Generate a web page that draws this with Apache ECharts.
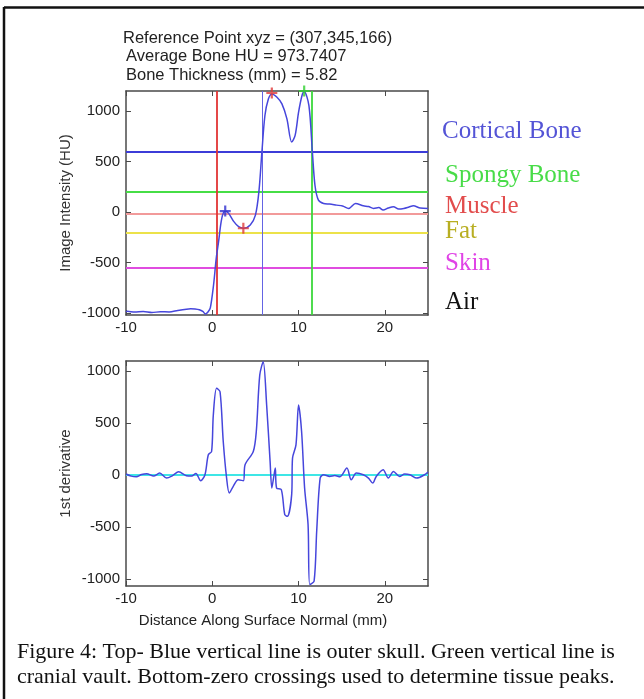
<!DOCTYPE html>
<html>
<head>
<meta charset="utf-8">
<script src="https://cdn.jsdelivr.net/npm/echarts@6.0.0/dist/echarts.min.js"></script>
<style>html,body{margin:0;padding:0;background:#fff;}</style>
</head>
<body>
<div id="main" style="width:644px;height:699px;"></div>
<script>
// tick labels
var distTicks = [-10, 0, 10, 20];
var valueTicks = [-1000, -500, 0, 500, 1000];

// top: intensity profile along the surface normal (mm, HU)
var profileX = [-10, -9.85, -9, -8, -7, -6, -5, -4, -3, -2.5, -2, -1.5, -1.1, -0.8, -0.5, -0.23, 0.15, 0.46, 0.73, 1.1, 1.5, 1.9, 2.5, 3.05, 3.6, 4.4, 5.0, 5.4, 5.75, 6.1, 6.5, 6.9, 7.5, 8.07, 8.65, 9.2, 9.6, 10.0, 10.4, 10.65, 11.2, 11.6, 11.9, 12.3, 12.9, 13.6, 14.4, 15.1, 15.8, 16.6, 17.5, 18.1, 18.7, 19.3, 19.8, 20.4, 21, 21.6, 22.2, 22.8, 23.3, 24.1, 25];
var profileY = [-990, -984, -990, -985, -995, -988, -990, -975, -962, -958, -960, -968, -985, -1010, -990, -950, -720, -457, -293, -62, 10, -13, -95, -145, -161, -128, -30, 200, 595, 957, 1120, 1171, 1138, 1072, 924, 694, 760, 990, 1155, 1195, 1056, 595, 266, 118, 85, 80, 69, 60, 36, 85, 62, 55, 36, 45, 20, 40, 53, 30, 36, 50, 62, 40, 36];

// bottom: first derivative of the profile
var derivX = [-10, -9.4, -8.8, -8.2, -7.6, -6.8, -6.1, -5.3, -4.6, -3.9, -3.0, -2.4, -1.9, -1.35, -0.85, -0.46, -0.08, 0.12, 0.5, 0.9, 1.27, 1.66, 1.97, 2.43, 3.0, 3.6, 3.8, 4.75, 5.1, 5.5, 5.9, 6.3, 6.7, 6.9, 7.1, 7.3, 7.45, 8.0, 8.4, 8.7, 9.2, 9.3, 9.7, 10.0, 10.35, 10.7, 11.1, 11.3, 11.8, 12.1, 12.5, 12.9, 13.6, 14.2, 14.8, 15.6, 16.1, 16.7, 17.5, 18.1, 18.6, 19.0, 19.8, 20.4, 21, 21.7, 22.3, 22.9, 23.7, 24.6, 25];
var derivY = [10, -10, -16, 5, 13, -10, 19, -29, -5, 32, -6, -10, 16, -54, 3, 195, 226, 577, 833, 800, 322, -29, -172, -108, -45, -54, 99, 226, 418, 960, 1088, 673, 131, -124, -29, 67, -124, -140, -380, -396, -188, 163, 290, 673, 418, -124, -475, -1050, -1018, -539, -29, 3, -13, -5, -16, 67, -45, 19, 3, -29, -77, -13, 51, -29, 35, -13, 10, 3, -29, 3, 29];

// tissue thresholds (HU)
var tissueNames = ['Cortical Bone', 'Spongy Bone', 'Muscle', 'Fat', 'Skin', 'Air'];
var tissueHU = [600, 200, -20, -200, -550];
var tissueLineColors = ['#3c3cd8', '#46de46', '#f29a9a', '#ece24a', '#e04ce0'];
var tissueTextColors = ['#5454d6', '#48dc48', '#e24c4c', '#b8ae22', '#e044e6', '#111111'];

// vertical markers: skin edge, outer skull, cranial vault (mm)
var edgeX = [0.46, 5.76, 11.58];
var edgeColors = ['#e23434', '#6464e4', '#3cd83c'];

// detected peaks
var peakX = [1.5, 3.6, 6.9, 10.65];
var peakY = [10, -160, 1180, 1200];
var peakColors = ['#2f2fd0', '#e03a3a', '#e03a3a', '#30d030'];

var titleLines = ['Reference Point xyz = (307,345,166)', 'Average Bone HU = 973.7407', 'Bone Thickness (mm) = 5.82'];
var captionLines = ['Figure 4: Top- Blue vertical line is outer skull. Green vertical line is',
                    'cranial vault. Bottom-zero crossings used to determine tissue peaks.'];

function zip(xs, ys) { return xs.map(function (x, i) { return [x, ys[i]]; }); }

var axisColor = '#4a4a4a';
var sans = 'Liberation Sans';

function xAx(grid, pos, labels) {
    return {
        type: 'value', gridIndex: grid, position: pos, min: -10, max: 25,
        axisLine: { show: true, onZero: false, lineStyle: { color: axisColor, width: 1.5 } },
        axisTick: { show: true, inside: true, length: 5, customValues: distTicks, lineStyle: { color: axisColor } },
        axisLabel: { show: labels, customValues: distTicks, formatter: function (v) { return String(v); },
                     color: '#222', fontFamily: sans, fontSize: 15, margin: 5 },
        splitLine: { show: false }
    };
}
function yAx(grid, pos, labels, mn, mx, name) {
    return {
        type: 'value', gridIndex: grid, position: pos, min: mn, max: mx,
        name: labels ? name : '', nameLocation: 'middle', nameGap: 53, nameRotate: 90,
        nameTextStyle: { color: '#333', fontFamily: sans, fontSize: 15 },
        axisLine: { show: true, onZero: false, lineStyle: { color: axisColor, width: 1.5 } },
        axisTick: { show: true, inside: true, length: 5, customValues: valueTicks, lineStyle: { color: axisColor } },
        axisLabel: { show: labels, customValues: valueTicks, formatter: function (v) { return String(v); },
                     color: '#222', fontFamily: sans, fontSize: 15, margin: 6 },
        splitLine: { show: false }
    };
}

var graphics = [
    { type: 'line', shape: { x1: 4, y1: 7.5, x2: 644, y2: 7.5 }, style: { stroke: '#111', lineWidth: 2.5 } },
    { type: 'line', shape: { x1: 4, y1: 7, x2: 4, y2: 699 }, style: { stroke: '#111', lineWidth: 2.5 } }
];
titleLines.forEach(function (t, i) {
    graphics.push({ type: 'text', x: i === 0 ? 123 : 126, y: 38 + i * 18.5,
        style: { text: t, font: '16.5px "Liberation Sans"', fill: '#222', verticalAlign: 'middle' } });
});
var labelY = [131, 175, 206, 231, 263, 302];
tissueNames.forEach(function (t, i) {
    graphics.push({ type: 'text', x: i === 0 ? 442 : 445, y: labelY[i],
        style: { text: t, font: '25px "Liberation Serif"', fill: tissueTextColors[i], verticalAlign: 'middle' } });
});
graphics.push({ type: 'text', x: 263, y: 621,
    style: { text: 'Distance Along Surface Normal (mm)', font: '15px "Liberation Sans"', fill: '#222', align: 'center', verticalAlign: 'middle' } });
captionLines.forEach(function (t, i) {
    graphics.push({ type: 'text', x: 17, y: 652 + i * 25,
        style: { text: t, font: '22px "Liberation Serif"', fill: '#111', verticalAlign: 'middle' } });
});

var series = [
    {
        type: 'line', xAxisIndex: 0, yAxisIndex: 0, data: zip(profileX, profileY),
        symbol: 'none', smooth: 0.3, z: 5,
        lineStyle: { color: '#4646dc', width: 1.5 },
        markLine: {
            silent: true, symbol: 'none', label: { show: false },
            data: tissueHU.map(function (v, i) {
                return { yAxis: v, lineStyle: { color: tissueLineColors[i], width: 2, type: 'solid' } };
            }).concat(edgeX.map(function (v, i) {
                return { xAxis: v, lineStyle: { color: edgeColors[i], width: i === 1 ? 1 : 1.8, type: 'solid' } };
            }))
        }
    },
    {
        type: 'scatter', xAxisIndex: 0, yAxisIndex: 0, z: 6,
        data: peakX.map(function (x, i) { return { value: [x, peakY[i]], itemStyle: { color: peakColors[i] } }; }),
        symbol: 'path://M4,0H6V4H10V6H6V10H4V6H0V4H4Z', symbolSize: 11
    },
    {
        type: 'line', xAxisIndex: 2, yAxisIndex: 2, data: zip(derivX, derivY),
        symbol: 'none', smooth: 0.3, z: 5,
        lineStyle: { color: '#4646dc', width: 1.5 },
        markLine: {
            silent: true, symbol: 'none', label: { show: false },
            data: [{ yAxis: 0, lineStyle: { color: '#3ee6e6', width: 2, type: 'solid' } }]
        }
    }
];

var myChart = echarts.init(document.getElementById('main'));
myChart.setOption({
    backgroundColor: '#fff',
    animation: false,
    grid: [
        { left: 126, top: 91, width: 302, height: 224 },
        { left: 126, top: 361, width: 302, height: 225 }
    ],
    xAxis: [xAx(0, 'bottom', true), xAx(0, 'top', false), xAx(1, 'bottom', true), xAx(1, 'top', false)],
    yAxis: [yAx(0, 'left', true, -1020, 1200, 'Image Intensity (HU)'), yAx(0, 'right', false, -1020, 1200, ''),
            yAx(1, 'left', true, -1065, 1095, '1st derivative'), yAx(1, 'right', false, -1065, 1095, '')],
    graphic: graphics,
    series: series
});
</script>
</body>
</html>
